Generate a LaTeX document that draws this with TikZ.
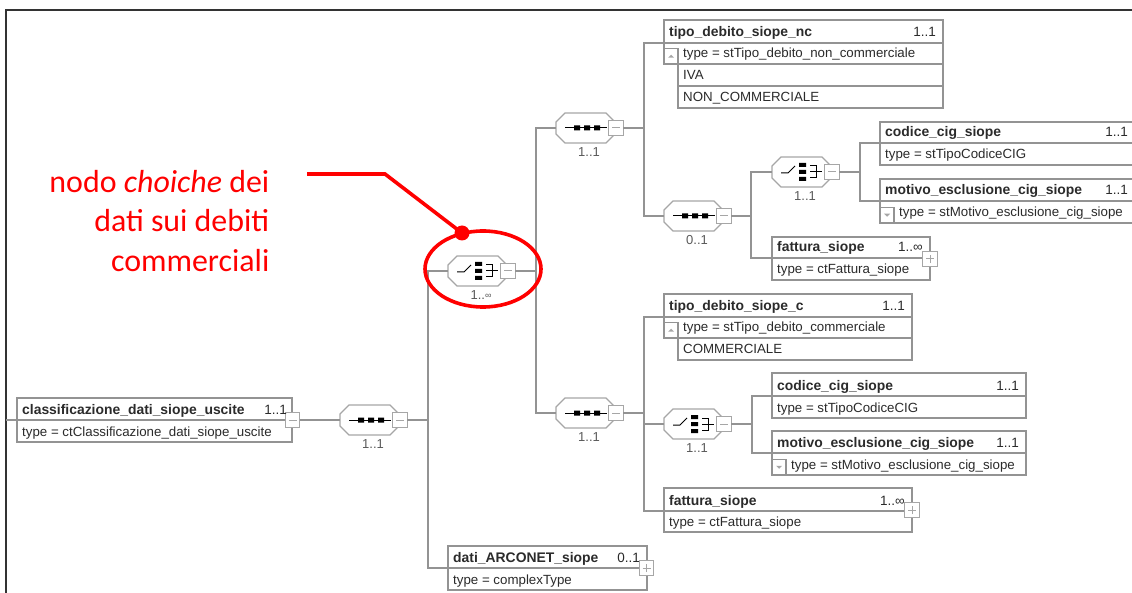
\documentclass[tikz,border=0pt]{standalone}
\usepackage{fontspec}
\setmainfont{Liberation Sans}
\newfontfamily\calloutfont{Carlito}
\usetikzlibrary{shapes.geometric}
\definecolor{linkgray}{HTML}{939393}
\definecolor{toggray}{HTML}{A6A6A6}
\definecolor{inkdark}{HTML}{2B2B2B}
\definecolor{framedark}{HTML}{333333}
\definecolor{occgray}{HTML}{5A5A5A}
\tikzset{
  link/.style={draw=linkgray,line width=1.25pt},
  cell/.style={draw=linkgray,line width=1.25pt,fill=white,rectangle,inner sep=0pt,outer sep=0pt},
  toggle/.style={draw=toggray,line width=1.1pt,fill=white,rectangle,inner sep=0pt,outer sep=0pt,minimum width=14.5pt,minimum height=14.5pt},
  togglesign/.style={draw=toggray,line width=1pt},
  octa/.style={rectangle,inner sep=0pt,outer sep=0pt,minimum width=59pt,minimum height=30pt,anchor=west},
  octaline/.style={draw=toggray,line width=1.1pt,fill=white},
  titletext/.style={font=\fontsize{13.9}{15}\selectfont\bfseries,text=inkdark,inner sep=0pt,anchor=base west},
  occtext/.style={font=\fontsize{13.5}{15}\selectfont,text=inkdark,inner sep=0pt,anchor=base east},
  rowtext/.style={font=\fontsize{13.3}{15}\selectfont,text=inkdark,inner sep=0pt,anchor=base west},
  grouplabel/.style={font=\fontsize{13}{15}\selectfont,text=occgray,inner sep=0pt},
  redline/.style={draw=red,line width=3.6pt},
}
% #1 name, #2 x0, #3 x1, #4 ytop, #5 ydiv, #6 title, #7 occurrence
\newcommand{\elemhead}[7]{%
  \node[cell,anchor=north west,minimum width=#3pt-#2pt,minimum height=#5pt-#4pt] (#1) at (#2,#4) {};
  \node[titletext] (#1-t) at (#2+5,#5-6) {#6};
  \node[occtext] (#1-o) at (#3-7,#5-6) {#7};
}
% #1 name, #2 x0, #3 x1, #4 ytop, #5 ybot, #6 text x, #7 text
\newcommand{\elemrow}[7]{%
  \node[cell,anchor=north west,minimum width=#3pt-#2pt,minimum height=#5pt-#4pt] (#1) at (#2,#4) {};
  \node[rowtext] (#1-x) at (#6,#5-6) {#7};
}
% #1 name, #2 centre x, #3 centre y
\newcommand{\minusbox}[3]{%
  \node[toggle] (#1) at (#2,#3) {};
  \draw[togglesign] ([xshift=-4pt]#1.center) -- ([xshift=4pt]#1.center);
}
\newcommand{\plusbox}[3]{%
  \node[toggle] (#1) at (#2,#3) {};
  \draw[togglesign] ([xshift=-4pt]#1.center) -- ([xshift=4pt]#1.center);
  \draw[togglesign] ([yshift=-4pt]#1.center) -- ([yshift=4pt]#1.center);
}
% small enumeration boxes: #1 name, #2 x0, #3 ybot
\newcommand{\upbox}[3]{%
  \node[cell,anchor=south west,minimum width=14pt,minimum height=15.5pt] (#1) at (#2,#3) {};
  \fill[toggray] ([xshift=-3pt,yshift=-1.5pt]#1.center) -- ([xshift=3pt,yshift=-1.5pt]#1.center) -- ([yshift=1.5pt]#1.center) -- cycle;
}
\newcommand{\downbox}[3]{%
  \node[cell,anchor=south west,minimum width=14pt,minimum height=15.5pt] (#1) at (#2,#3) {};
  \fill[toggray] ([xshift=-3pt,yshift=1.5pt]#1.center) -- ([xshift=3pt,yshift=1.5pt]#1.center) -- ([yshift=-1.5pt]#1.center) -- cycle;
}
% octagon outline: #1 x0, #2 cy
\newcommand{\octapath}[2]{%
  \draw[octaline] (#1,#2-6) -- (#1+9,#2-15) -- (#1+50,#2-15) -- (#1+59,#2-6) -- (#1+59,#2+6) -- (#1+50,#2+15) -- (#1+9,#2+15) -- (#1,#2+6) -- cycle;
}
% #1 name, #2 x0, #3 cy, #4 label
\newcommand{\seqgroup}[4]{%
  \node[octa] (#1) at (#2,#3) {};
  \octapath{#2}{#3}
  \draw[black,line width=1pt] (#2+9,#3) -- (#2+51,#3);
  \fill[black] (#2+18,#3-2.5) rectangle (#2+24,#3+2.5)
               (#2+28,#3-2.5) rectangle (#2+34,#3+2.5)
               (#2+38,#3-2.5) rectangle (#2+44,#3+2.5);
  \minusbox{#1-m}{#2+60}{#3}
  \node[grouplabel] (#1-l) at (#2+33,#3+24) {#4};
}
\newcommand{\choicegroup}[4]{%
  \node[octa] (#1) at (#2,#3) {};
  \octapath{#2}{#3}
  \draw[black,line width=1pt] (#2+9,#3+1) -- (#2+16,#3+1) -- (#2+23,#3-6);
  \fill[black] (#2+27,#3-9) rectangle (#2+34,#3-5)
               (#2+27,#3-2) rectangle (#2+34,#3+2)
               (#2+27,#3+5) rectangle (#2+34,#3+9);
  \draw[black,line width=1pt] (#2+38,#3-6) -- (#2+44,#3-6) -- (#2+44,#3+6) -- (#2+38,#3+6)
        (#2+38,#3) -- (#2+50,#3);
  \minusbox{#1-m}{#2+60}{#3}
  \node[grouplabel] (#1-l) at (#2+33,#3+24) {#4};
}
\begin{document}
\begin{tikzpicture}[x=1pt,y=-1pt]
\useasboundingbox (0,0) rectangle (1132,593);
\clip (0,0) rectangle (1132,593);
\fill[white] (0,0) rectangle (1132,593);
\draw[framedark,line width=1.3pt] (6,593) -- (6,10) -- (1132,10);

% root
\elemhead{root}{17}{292}{398}{420}{classificazione\_dati\_siope\_uscite}{}
\elemrow{rootT}{17}{292}{420}{442}{22}{type = ctClassificazione\_dati\_siope\_uscite}
\minusbox{rootM}{292.5}{420}
\node[occtext] (root-p) at (287,414) {1..1};
\seqgroup{seqMain}{340}{420}{1..1}

% choice highlighted
\choicegroup{chA}{448}{271}{1..\raisebox{0.2ex}{\fontsize{9}{10}\selectfont∞}}

% upper branch
\seqgroup{seqU}{556}{128}{1..1}
\elemhead{nc}{664}{943}{20}{43}{tipo\_debito\_siope\_nc}{1..1}
\elemrow{ncT}{664}{943}{43}{64}{683}{type = stTipo\_debito\_non\_commerciale}
\upbox{ncB}{664}{64}
\elemrow{ncE}{678}{943}{64}{86}{683}{IVA}
\elemrow{ncF}{678}{943}{86}{108}{683}{NON\_COMMERCIALE}

\seqgroup{seqW}{664}{216}{0..1}
\choicegroup{chU}{772}{172}{1..1}
\elemhead{cigU}{880}{1140}{122}{143}{codice\_cig\_siope}{}
\node[occtext] (cigU-p) at (1128,137) {1..1};
\elemrow{cigUT}{880}{1140}{143}{165}{885}{type = stTipoCodiceCIG}
\elemhead{motU}{880}{1140}{179}{201}{motivo\_esclusione\_cig\_siope}{}
\node[occtext] (motU-p) at (1128,195) {1..1};
\elemrow{motUT}{880}{1140}{201}{223}{899}{type = stMotivo\_esclusione\_cig\_siope}
\downbox{motUB}{880}{223}
\elemhead{fatU}{772}{930}{237}{258}{fattura\_siope}{1..∞}
\elemrow{fatUT}{772}{930}{258}{280}{777}{type = ctFattura\_siope}
\plusbox{fatUM}{930}{259}

% lower branch
\seqgroup{seqL}{556}{413}{1..1}
\elemhead{dc}{664}{912}{294}{317}{tipo\_debito\_siope\_c}{1..1}
\elemrow{dcT}{664}{912}{317}{338}{683}{type = stTipo\_debito\_commerciale}
\upbox{dcB}{664}{338}
\elemrow{dcE}{678}{912}{338}{360}{683}{COMMERCIALE}
\choicegroup{chL}{664}{424}{1..1}
\elemhead{cigL}{772}{1026}{373}{396}{codice\_cig\_siope}{1..1}
\elemrow{cigLT}{772}{1026}{396}{418}{777}{type = stTipoCodiceCIG}
\elemhead{motL}{772}{1026}{431}{453}{motivo\_esclusione\_cig\_siope}{1..1}
\elemrow{motLT}{772}{1026}{453}{475}{791}{type = stMotivo\_esclusione\_cig\_siope}
\downbox{motLB}{772}{475}
\elemhead{fatL}{664}{912}{488}{511}{fattura\_siope}{1..∞}
\elemrow{fatLT}{664}{912}{511}{532}{669}{type = ctFattura\_siope}
\plusbox{fatLM}{912}{510}

% ARCONET
\elemhead{arc}{448}{647}{546}{568}{dati\_ARCONET\_siope}{0..1}
\elemrow{arcT}{448}{647}{568}{590}{453}{type = complexType}
\plusbox{arcM}{646.5}{568}

% connectors
\coordinate (frameL) at (6,420);
\coordinate (busA) at (428,420);
\coordinate (busB) at (536,271);
\coordinate (busC) at (644,128);
\coordinate (busD) at (751,216);
\coordinate (busE) at (860,172);
\coordinate (busF) at (644,413);
\coordinate (busG) at (752,424);
\draw[link] (frameL) -- (root.south west);
\draw[link] (rootM.east) -- (seqMain.west);
\draw[link] (seqMain-m.east) -- (busA);
\draw[link] (busA) |- (chA.west);
\draw[link] (busA) |- (arc.south west);
\draw[link] (chA-m.east) -- (busB);
\draw[link] (busB) |- (seqU.west);
\draw[link] (busB) |- (seqL.west);
\draw[link] (seqU-m.east) -- (busC);
\draw[link] (busC) |- (nc.south west);
\draw[link] (busC) |- (seqW.west);
\draw[link] (seqW-m.east) -- (busD);
\draw[link] (busD) |- (chU.west);
\draw[link] (busD) |- (fatU.south west);
\draw[link] (chU-m.east) -- (busE);
\draw[link] (busE) |- (cigU.south west);
\draw[link] (busE) |- (motU.south west);
\draw[link] (seqL-m.east) -- (busF);
\draw[link] (busF) |- (dc.south west);
\draw[link] (busF) |- (chL.west);
\draw[link] (busF) |- (fatL.south west);
\draw[link] (chL-m.east) -- (busG);
\draw[link] (busG) |- (cigL.south west);
\draw[link] (busG) |- (motL.south west);

% callout
\node[font=\calloutfont\fontsize{31.9}{39.5}\selectfont,text=red,align=right,anchor=east,inner sep=0pt] (callout) at (269.5,221) {nodo \textit{choiche} dei\\dati sui debiti\\commerciali};
\node[draw=red,line width=3.6pt,ellipse,inner sep=0pt,outer sep=0pt,minimum width=116pt,minimum height=76pt] (ring) at (483,269) {};
\node[fill=red,circle,inner sep=0pt,outer sep=0pt,minimum size=15pt] (dot) at (462,233) {};
\coordinate (ptrA) at (307,174);
\coordinate (ptrB) at (385,174);
\draw[redline] (ptrA) -- (ptrB) -- (dot.center);
\end{tikzpicture}
\end{document}
